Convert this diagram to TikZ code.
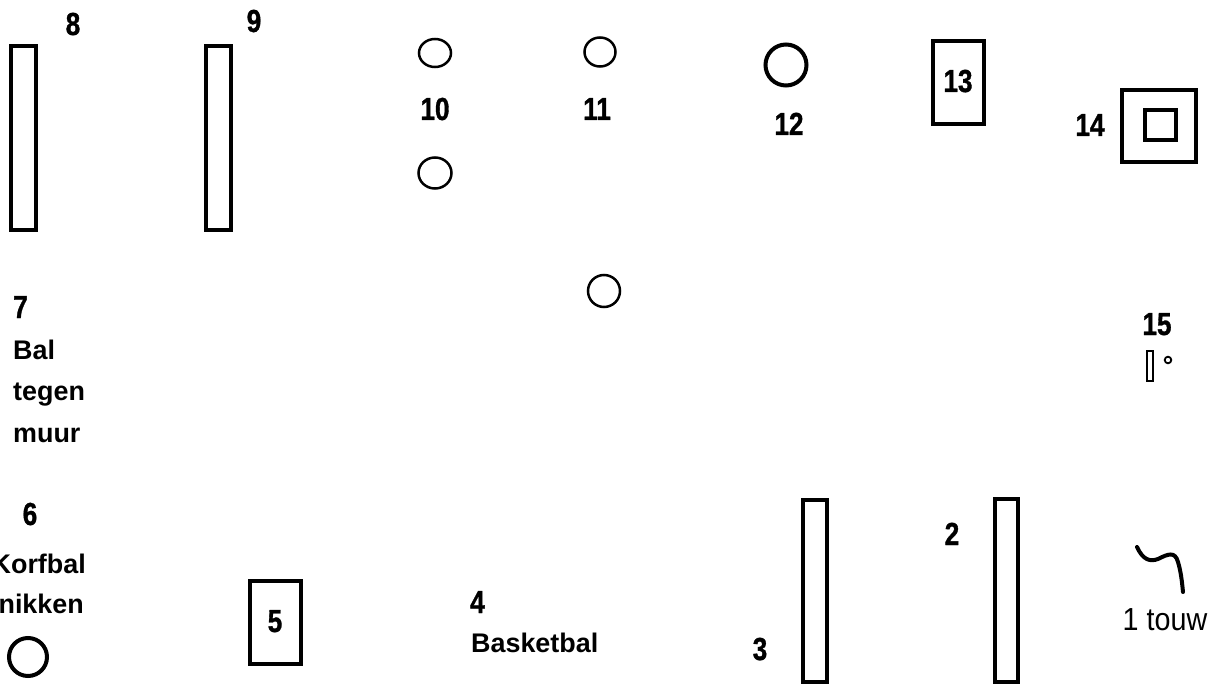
\documentclass[tikz,border=0pt]{standalone}
\usepackage{fontspec}
\setmainfont{Liberation Sans}
\newfontfamily\numfont[FakeStretch=0.82,FakeBold=1]{Liberation Sans}
\newfontfamily\touwfont[FakeStretch=0.9]{Liberation Sans}
\tikzset{
  box/.style={line width=4bp, draw=black},
  ring/.style={line width=2.5bp, draw=black},
  num/.style={inner sep=0pt, anchor=base, font=\numfont\bfseries\fontsize{32}{36}\selectfont},
  word/.style={inner sep=0pt, font=\bfseries\fontsize{27}{32}\selectfont},
  rope/.style={line width=4bp, line cap=round, draw=black}
}
\begin{document}
\begin{tikzpicture}[x=1bp,y=-1bp]
\useasboundingbox (0,0) rectangle (1215,684);
% rectangles
\draw[box] (11,46) rectangle (36,230);
\draw[box] (206,46) rectangle (231,230);
\draw[box] (933,41) rectangle (984,124);
\draw[box] (1122,90) rectangle (1196,162);
\draw[box] (1145,110) rectangle (1176,140);
\draw[box] (250,581) rectangle (301,664);
\draw[box] (803,500) rectangle (827,682);
\draw[box] (995,499) rectangle (1018,682);
\draw[line width=2bp] (1147,351) rectangle (1153,381);
% circles
\draw[ring] (435,53) ellipse [x radius=16, y radius=14];
\draw[ring] (435,173) ellipse [x radius=16.5, y radius=15.5];
\draw[ring] (600,52) ellipse [x radius=15.5, y radius=14.5];
\draw[ring] (604,291) ellipse [x radius=16, y radius=16];
\draw[line width=4bp] (786,65) circle [radius=20.5];
\draw[line width=4bp] (28,657) circle [radius=19];
\draw[line width=1.8bp] (1168,360) circle [radius=3.3];
% rope
\draw[rope] (1137,547) .. controls (1143,560) and (1150,562) .. (1158,559)
  .. controls (1168,554) and (1175,551) .. (1178,562)
  .. controls (1181,572) and (1182,582) .. (1183,592);
% labels
\node[num] (l8) at (73,35) {8};
\node[num] (l9) at (254,32) {9};
\node[num] (l10) at (435,120) {10};
\node[num] (l11) at (597,120) {11};
\node[num] (l12) at (789,135) {12};
\node[num] (l13) at (958,92) {13};
\node[num] (l14) at (1090,136) {14};
\node[num] (l15) at (1157,335) {15};
\node[num] (l7) at (20.5,318) {7};
\node[word, anchor=base west] (bal) at (13,359) {Bal};
\node[word, anchor=base west] (tegen) at (13,400) {tegen};
\node[word, anchor=base west] (muur) at (13,442) {muur};
\node[num] (l6) at (30,525) {6};
\node[word, anchor=base east] (korf) at (86,573) {Korfbal};
\node[word, anchor=base east] (nik) at (84,613) {nikken};
\node[num] (l5) at (275,632) {5};
\node[num] (l4) at (477.5,613) {4};
\node[word, anchor=base west] (basket) at (471,652) {Basketbal};
\node[num] (l3) at (760,660) {3};
\node[num] (l2) at (952,545) {2};
\node[inner sep=0pt, anchor=base, font=\touwfont\fontsize{32}{38}\selectfont] (touw) at (1165,630) {1 touw};
\end{tikzpicture}
\end{document}
